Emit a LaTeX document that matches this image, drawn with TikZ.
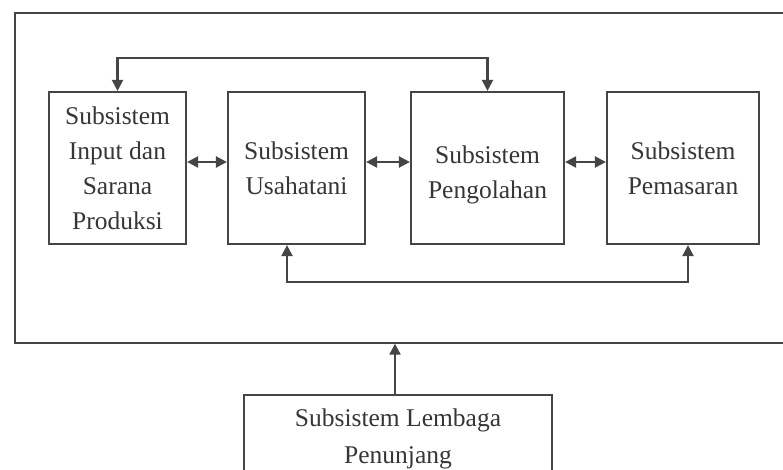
\documentclass[tikz,border=0pt]{standalone}
\usepackage{fontspec}
\setmainfont{Liberation Serif}
\usetikzlibrary{arrows.meta,calc}
\definecolor{ln}{HTML}{454545}
\definecolor{tx}{HTML}{363636}
\begin{document}
\begin{tikzpicture}[x=1pt,y=-1pt,
  sub/.style={draw=ln,line width=2.2pt,minimum height=152pt,inner sep=0pt,
    align=center,font=\fontsize{25.5}{35}\selectfont,text=tx},
  con/.style={draw=ln,line width=2.2pt},
  arr/.style={con,-{Triangle[length=11pt,width=11pt]}},
  darr/.style={con,{Triangle[length=11pt,width=11pt]}-{Triangle[length=11pt,width=11pt]}}]
\useasboundingbox (0,0) rectangle (783,470);
\clip (0,0) rectangle (783,470);
\fill[white] (0,0) rectangle (783,470);
\node[draw=ln,line width=2.2pt,minimum width=790pt,minimum height=329.5pt,inner sep=0pt,anchor=north west] (sys) at (13.5,12) {};
\node[sub,minimum width=137pt] (b1) at (117.5,168) {Subsistem\\Input dan\\Sarana\\Produksi};
\node[sub,minimum width=137pt] (b2) at (296.5,168) {Subsistem\\Usahatani};
\node[sub,minimum width=153pt] (b3) at (487.5,168) {\rule{0pt}{31pt}Subsistem\\Pengolahan};
\node[sub,minimum width=152pt] (b4) at (683,168) {Subsistem\\Pemasaran};
\node[draw=ln,line width=2.2pt,minimum width=308pt,minimum height=88pt,inner sep=0pt,
  align=center,font=\fontsize{25.5}{37}\selectfont,text=tx,anchor=north] (b5) at (398,394) {Subsistem Lembaga\\Penunjang};
% horizontal links
\draw[darr] (b1.east |- 0,162) -- (b2.west |- 0,162);
\draw[darr] (b2.east |- 0,162) -- (b3.west |- 0,162);
\draw[darr] (b3.east |- 0,162) -- (b4.west |- 0,162);
% top link
\coordinate (t1) at ($(b1.north)+(0,-33)$);
\draw[darr] (b1.north) -- (t1) -- (t1 -| b3.north) -- (b3.north);
% bottom link
\coordinate (s2) at ([xshift=-9.5pt]b2.south);
\coordinate (s4) at ([xshift=5pt]b4.south);
\coordinate (u2) at ($(s2)+(0,37)$);
\draw[darr] (s2) -- (u2) -- (u2 -| s4) -- (s4);
% support link
\coordinate (p5) at ([xshift=-3pt]b5.north);
\draw[arr] (p5) -- (p5 |- sys.south);
\end{tikzpicture}
\end{document}
